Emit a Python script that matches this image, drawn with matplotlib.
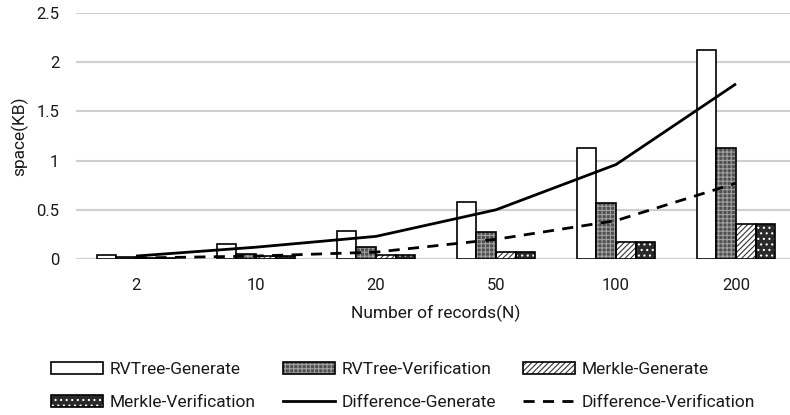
import matplotlib
matplotlib.use("Agg")
import matplotlib.pyplot as plt
import numpy as np
from matplotlib.patches import Patch
from matplotlib.lines import Line2D
from matplotlib.legend_handler import HandlerTuple
from matplotlib import font_manager

names = {f.name for f in font_manager.fontManager.ttflist}
fam = 'Liberation Sans Narrow' if 'Liberation Sans Narrow' in names else 'Roboto'
plt.rcParams['font.family'] = [fam, 'DejaVu Sans']
plt.rcParams['hatch.linewidth'] = 0.8

categories = ['2', '10', '20', '50', '100', '200']
rv_generate = [0.04, 0.15, 0.28, 0.58, 1.13, 2.12]
rv_verification = [0.02, 0.05, 0.12, 0.27, 0.57, 1.13]
merkle_generate = [0.01, 0.03, 0.04, 0.07, 0.17, 0.36]
merkle_verification = [0.01, 0.03, 0.04, 0.07, 0.17, 0.36]
diff_generate = [0.03, 0.12, 0.23, 0.50, 0.96, 1.78]
diff_verification = [0.01, 0.03, 0.07, 0.20, 0.39, 0.77]

TXT = '#1a1a1a'
W, H = 790, 415
fig = plt.figure(figsize=(W / 100, H / 100), dpi=100)
ax = fig.add_axes([76 / W, (H - 259) / H, 720 / W, 246 / H])

x = np.arange(len(categories))
bw = 0.163
offs = [-1.5, -0.5, 0.5, 1.5]

STY = {
    'rvv': dict(facecolor='#505050', edgecolor='#a0a0a0', hatch='++++'),
    'mg': dict(facecolor='white', edgecolor='#333333', hatch='//////'),
    'mv': dict(facecolor='#2a2a2a', edgecolor='white', hatch='...'),
}

ax.bar(x + offs[0] * bw, rv_generate, bw, facecolor='white', edgecolor='black', linewidth=1.2, zorder=3)
for vals, key, o in [(rv_verification, 'rvv', offs[1]), (merkle_generate, 'mg', offs[2]),
                     (merkle_verification, 'mv', offs[3])]:
    ax.bar(x + o * bw, vals, bw, linewidth=0, zorder=3, **STY[key])
    ax.bar(x + o * bw, vals, bw, fill=False, edgecolor='black', linewidth=1.2, zorder=4)

ax.plot(x, diff_generate, color='black', lw=2, solid_capstyle='butt', zorder=5)
ax.plot(x, diff_verification, color='black', lw=2, ls=(0, (4, 3)), zorder=5)

ax.set_xlim(-0.5, len(categories) - 0.5)
ax.set_ylim(0, 2.5)
ax.set_yticks([0, 0.5, 1, 1.5, 2, 2.5])
ax.set_yticklabels(['0', '0.5', '1', '1.5', '2', '2.5'])
ax.set_xticks(x)
ax.set_xticklabels(categories)
ax.tick_params(axis='both', length=0, labelsize=12, colors=TXT)
ax.tick_params(axis='y', pad=12)
ax.tick_params(axis='x', pad=14)
for s in ax.spines.values():
    s.set_visible(False)
ax.yaxis.grid(True, color='#cfcfcf', linewidth=1.5, zorder=0)
ax.set_axisbelow(True)
ax.axhline(0, color='#cfcfcf', lw=1.5, zorder=1)

ax.set_ylabel('space(KB)', fontsize=12.5, labelpad=6, color=TXT)
fig.text(436 / W, 1 - 313 / H, 'Number of records(N)', ha='center', va='center', fontsize=12.5, color=TXT)

def pair(key):
    return (Patch(linewidth=0, **STY[key]),
            Patch(fill=False, edgecolor='black', linewidth=1.2))

h_rvg = Patch(facecolor='white', edgecolor='black', linewidth=1.2)
h_dg = Line2D([], [], color='black', lw=2)
h_dv = Line2D([], [], color='black', lw=2, ls=(0, (4, 3)))

handles = [h_rvg, pair('mv'), pair('rvv'), h_dg, pair('mg'), h_dv]
labels = ['RVTree-Generate', 'Merkle-Verification', 'RVTree-Verification',
          'Difference-Generate', 'Merkle-Generate', 'Difference-Verification']
leg = fig.legend(handles, labels, ncol=3, loc='center', bbox_to_anchor=(403 / W, 1 - 386 / H),
                 frameon=False, fontsize=12.5, handlelength=3.0, handleheight=0.7,
                 handletextpad=0.4, columnspacing=1.55, labelspacing=1.0,
                 handler_map={tuple: HandlerTuple(ndivide=1, pad=0)})
for t in leg.get_texts():
    t.set_color(TXT)

fig.savefig('out.png', dpi=100)
